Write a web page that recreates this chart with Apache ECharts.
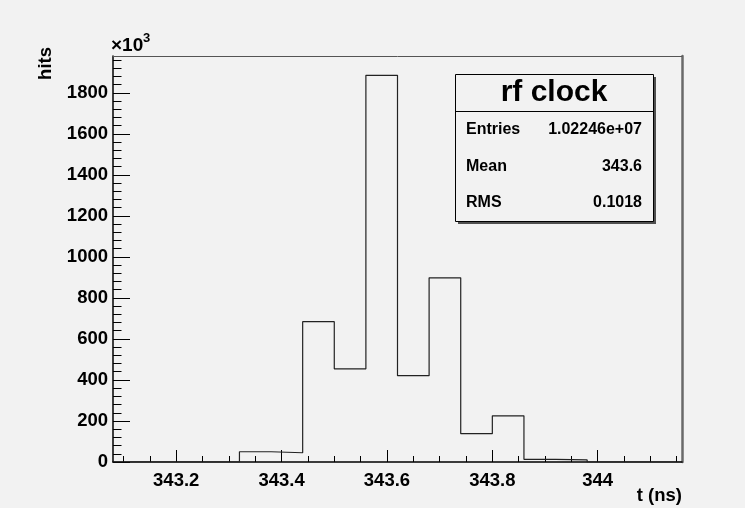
<!DOCTYPE html>
<html>
<head>
<meta charset="utf-8">
<title>rf clock</title>
<script src="https://cdn.jsdelivr.net/npm/echarts@6/dist/echarts.min.js"></script>
<style>
  html, body { margin: 0; padding: 0; background: #f2f2f2; }
  #chart { width: 745px; height: 508px; }
</style>
</head>
<body>
<div id="chart"></div>
<script>
// Histogram "rf clock": hits per 0.06 ns bin, in units of 10^3
const binEdges = [343.08, 343.14, 343.20, 343.26, 343.32, 343.38, 343.44, 343.50, 343.56,
                  343.62, 343.68, 343.74, 343.80, 343.86, 343.92, 343.98, 344.04, 344.10, 344.16];
const hitsK = [0, 0, 0, 0, 50, 45, 684, 454, 1885, 421, 898, 138, 225, 13, 10, 0, 0, 0];

const xTickLabels = [343.2, 343.4, 343.6, 343.8, 344];
const yTickLabels = [0, 200, 400, 600, 800, 1000, 1200, 1400, 1600, 1800];

const statsTitle = 'rf clock';
const statsRows = [
  ['Entries', '1.02246e+07'],
  ['Mean', '343.6'],
  ['RMS', '0.1018']
];

const FONT = '"Liberation Sans", Arial, Helvetica, sans-serif';
const xMin = binEdges[0];
const xMax = binEdges[binEdges.length - 1];
const yMax = Math.max(...hitsK) * 1.05;

// minor ticks: 4 per major on x (0.05), 5 per major on y (40)
function minorTicks(from, to, step, majors) {
  const out = [];
  const n = Math.round((to - from) / step);
  for (let i = 0; i <= n; i++) {
    const v = +(from + i * step).toFixed(4);
    if (!majors.some(m => Math.abs(m - v) < 1e-6)) out.push(v);
  }
  return out;
}
const xMinor = minorTicks(343.10, 344.15, 0.05, xTickLabels);
const yMinor = minorTicks(0, 1960, 40, yTickLabels);

// step outline: each bin level runs from its low edge to the next edge
const outline = binEdges.slice(0, -1).map((e, i) => [e, hitsK[i]]);
outline.push([xMax, hitsK[hitsK.length - 1]]);

const chart = echarts.init(document.getElementById('chart'), null, { renderer: 'canvas' });

const labelStyle = { color: '#000', fontFamily: FONT, fontWeight: 'bold', fontSize: 18.5,
                     formatter: v => String(+v.toFixed(4)) };

chart.setOption({
  animation: false,
  backgroundColor: '#f2f2f2',
  grid: { left: 113, right: 63, top: 56, bottom: 46, containLabel: false },
  xAxis: [
    {
      type: 'value', min: xMin, max: xMax, position: 'bottom',
      axisLine: { show: true, onZero: false, lineStyle: { color: '#000', width: 1.5 } },
      axisTick: { show: true, inside: true, length: 12, customValues: xTickLabels,
                  lineStyle: { color: '#000', width: 1 } },
      axisLabel: Object.assign({ show: true, margin: 9, customValues: xTickLabels }, labelStyle),
      splitLine: { show: false }
    },
    {
      type: 'value', min: xMin, max: xMax, position: 'bottom',
      axisLine: { show: false },
      axisTick: { show: true, inside: true, length: 6, customValues: xMinor,
                  lineStyle: { color: '#000', width: 1 } },
      axisLabel: { show: false },
      splitLine: { show: false }
    },
    {
      type: 'value', min: xMin, max: xMax, position: 'top',
      axisLine: { show: true, onZero: false, lineStyle: { color: '#555', width: 1 } },
      axisTick: { show: false }, axisLabel: { show: false }, splitLine: { show: false }
    }
  ],
  yAxis: [
    {
      type: 'value', min: 0, max: yMax, position: 'left',
      axisLine: { show: true, onZero: false, lineStyle: { color: '#000', width: 1.5 } },
      axisTick: { show: true, inside: true, length: 17, customValues: yTickLabels,
                  lineStyle: { color: '#000', width: 1 } },
      axisLabel: Object.assign({ show: true, margin: 5, customValues: yTickLabels }, labelStyle),
      splitLine: { show: false }
    },
    {
      type: 'value', min: 0, max: yMax, position: 'left',
      axisLine: { show: false },
      axisTick: { show: true, inside: true, length: 8.5, customValues: yMinor,
                  lineStyle: { color: '#000', width: 1 } },
      axisLabel: { show: false },
      splitLine: { show: false }
    },
    {
      type: 'value', min: 0, max: yMax, position: 'right',
      axisLine: { show: true, onZero: false, lineStyle: { color: '#6a6a6a', width: 2.5 } },
      axisTick: { show: false }, axisLabel: { show: false }, splitLine: { show: false }
    }
  ],
  series: [
    {
      name: statsTitle,
      type: 'line',
      xAxisIndex: 0, yAxisIndex: 0,
      step: 'end',
      data: outline,
      showSymbol: false,
      symbol: 'none',
      lineStyle: { color: '#222', width: 1.2 },
      z: 3
    }
  ],
  graphic: [
    // axis titles and exponent
    { type: 'text', x: 682, y: 496,
      style: { text: 't (ns)', align: 'right', verticalAlign: 'middle', fill: '#000',
               font: 'bold 18.5px ' + FONT } },
    { type: 'text', x: 46, y: 47, rotation: Math.PI / 2,
      style: { text: 'hits', align: 'right', verticalAlign: 'middle', fill: '#000',
               font: 'bold 18.5px ' + FONT } },
    { type: 'text', x: 111, y: 55,
      style: { text: '\u00d710', align: 'left', verticalAlign: 'bottom', fill: '#000',
               font: 'bold 19px ' + FONT } },
    { type: 'text', x: 143, y: 45,
      style: { text: '3', align: 'left', verticalAlign: 'bottom', fill: '#000',
               font: 'bold 13px ' + FONT } },
    // statistics box
    { type: 'rect', shape: { x: 458, y: 77, width: 198, height: 147 },
      style: { fill: '#505050' }, z: 10 },
    { type: 'rect', shape: { x: 455.5, y: 74.5, width: 198, height: 147 },
      style: { fill: '#f2f2f2', stroke: '#000', lineWidth: 1 }, z: 11 },
    { type: 'line', shape: { x1: 455.5, y1: 111.5, x2: 653.5, y2: 111.5 },
      style: { stroke: '#000', lineWidth: 1 }, z: 12 },
    { type: 'text', x: 554, y: 93, z: 12,
      style: { text: statsTitle, align: 'center', verticalAlign: 'middle', fill: '#000',
               font: 'bold 30px ' + FONT } }
  ].concat(statsRows.flatMap((row, i) => [
    { type: 'text', x: 466, y: 130 + i * 36.5, z: 12,
      style: { text: row[0], align: 'left', verticalAlign: 'middle', fill: '#000',
               font: 'bold 16px ' + FONT } },
    { type: 'text', x: 642, y: 130 + i * 36.5, z: 12,
      style: { text: row[1], align: 'right', verticalAlign: 'middle', fill: '#000',
               font: 'bold 16px ' + FONT } }
  ]))
});
</script>
</body>
</html>
